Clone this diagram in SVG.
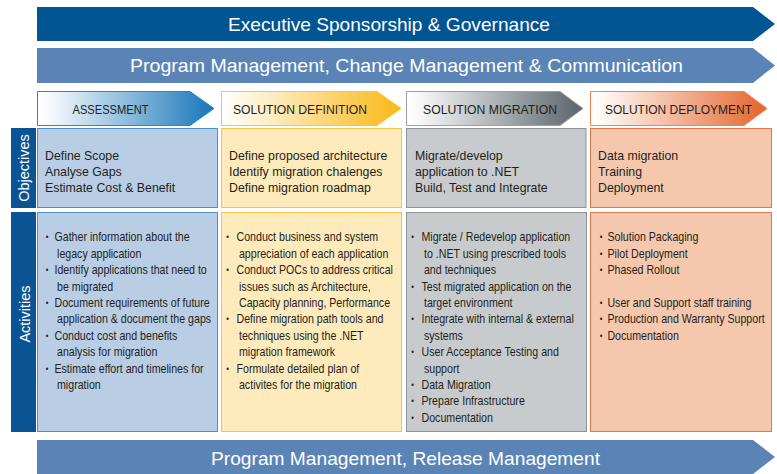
<svg xmlns="http://www.w3.org/2000/svg" width="777" height="474" viewBox="0 0 777 474">
<defs>
<linearGradient id="gA" x1="0" x2="1" y1="0" y2="0"><stop offset="0" stop-color="#ffffff"/><stop offset="0.08" stop-color="#f4f8fc"/><stop offset="1" stop-color="#1676b9"/></linearGradient>
<linearGradient id="gD" x1="0" x2="1" y1="0" y2="0"><stop offset="0" stop-color="#ffffff"/><stop offset="0.08" stop-color="#fffaf0"/><stop offset="1" stop-color="#fbb815"/></linearGradient>
<linearGradient id="gM" x1="0" x2="1" y1="0" y2="0"><stop offset="0" stop-color="#ffffff"/><stop offset="0.08" stop-color="#f6f7f7"/><stop offset="1" stop-color="#58636a"/></linearGradient>
<linearGradient id="gP" x1="0" x2="1" y1="0" y2="0"><stop offset="0" stop-color="#ffffff"/><stop offset="0.08" stop-color="#fff7f2"/><stop offset="1" stop-color="#e3642b"/></linearGradient>
</defs>
<style>
text{font-family:"Liberation Sans",Arial,sans-serif;fill:#231f20}
.ban{fill:#ffffff;font-size:18.5px}
.hd{font-size:13.5px}
.ob{font-size:13px}
.bl{font-size:12.5px}
.dot{font-size:9px}
.lbl{fill:#ffffff;font-size:14.5px}
.lab{fill:#0b5494}
.bA{fill:#b9cde5;stroke:#4f93cc;stroke-width:1}
.bD{fill:#feeabb;stroke:#f7c440;stroke-width:1}
.bM{fill:#c8cbcd;stroke:#8d9396;stroke-width:1}
.bP{fill:#f5c8ae;stroke:#e2774a;stroke-width:1}
</style>
<rect width="777" height="474" fill="#ffffff"/>

<g id="exec-banner">
<polygon points="37,7 753,7 775,24 753,41 37,41" fill="#005592"/>
<text class="ban" x="228" y="30.5" textLength="322" lengthAdjust="spacingAndGlyphs">Executive Sponsorship &amp; Governance</text>
</g>
<g id="program-banner">
<polygon points="37,48 753,48 775,65.5 753,83 37,83" fill="#5b84b6"/>
<text class="ban" x="130" y="72" textLength="553" lengthAdjust="spacingAndGlyphs">Program Management, Change Management &amp; Communication</text>
</g>
<g id="release-banner">
<polygon points="37,440 753,440 775,457 753,474 37,474" fill="#5b84b6"/>
<text class="ban" x="211" y="464.5" textLength="389" lengthAdjust="spacingAndGlyphs">Program Management, Release Management</text>
</g>

<g id="hdr-assessment">
<polygon points="37.5,91.5 190,91.5 214,108.5 190,125.5 37.5,125.5" fill="url(#gA)" stroke="#2a86c5"/>
<text class="hd" x="72.5" y="113.5" textLength="76" lengthAdjust="spacingAndGlyphs">ASSESSMENT</text>
</g>
<g id="hdr-definition">
<polygon points="221.5,91.5 377,91.5 401,108.5 377,125.5 221.5,125.5" fill="url(#gD)" stroke="#fbc538"/>
<text class="hd" x="233" y="113.5" textLength="134" lengthAdjust="spacingAndGlyphs">SOLUTION DEFINITION</text>
</g>
<g id="hdr-migration">
<polygon points="406.5,91.5 560,91.5 583,108.5 560,125.5 406.5,125.5" fill="url(#gM)" stroke="#9aa0a4"/>
<text class="hd" x="423" y="113.5" textLength="134" lengthAdjust="spacingAndGlyphs">SOLUTION MIGRATION</text>
</g>
<g id="hdr-deployment">
<polygon points="590.5,91.5 744,91.5 767,108.5 744,125.5 590.5,125.5" fill="url(#gP)" stroke="#ee8252"/>
<text class="hd" x="605" y="113.5" textLength="147" lengthAdjust="spacingAndGlyphs">SOLUTION DEPLOYMENT</text>
</g>

<g id="label-objectives">
<rect class="lab" x="11" y="128" width="25" height="80"/>
<text class="lbl" transform="translate(29 168) rotate(-90)" text-anchor="middle">Objectives</text>
</g>
<g id="label-activities">
<rect class="lab" x="11" y="212" width="25" height="220"/>
<text class="lbl" transform="translate(29.5 314) rotate(-90)" text-anchor="middle">Activities</text>
</g>

<g id="obj-assessment">
<rect class="bA" x="37.5" y="128.5" width="180" height="79"/>
<g transform="translate(45 0) scale(0.95 1)">
<text class="ob" x="0" y="160.5">Define Scope</text>
<text class="ob" x="0" y="176.3">Analyse Gaps</text>
<text class="ob" x="0" y="192">Estimate Cost &amp; Benefit</text>
</g>
</g>
<g id="obj-definition">
<rect class="bD" x="221.5" y="128.5" width="180" height="79"/>
<g transform="translate(229 0) scale(0.95 1)">
<text class="ob" x="0" y="160.5">Define proposed architecture</text>
<text class="ob" x="0" y="176.3">Identify migration chalenges</text>
<text class="ob" x="0" y="192">Define migration roadmap</text>
</g>
</g>
<g id="obj-migration">
<rect class="bM" x="406.5" y="128.5" width="179.5" height="79"/>
<g transform="translate(415 0) scale(0.95 1)">
<text class="ob" x="0" y="160.5">Migrate/develop</text>
<text class="ob" x="0" y="176.3">application to .NET</text>
<text class="ob" x="0" y="192">Build, Test and Integrate</text>
</g>
</g>
<g id="obj-deployment">
<rect class="bP" x="590.5" y="128.5" width="181" height="79"/>
<g transform="translate(598 0) scale(0.95 1)">
<text class="ob" x="0" y="160.5">Data migration</text>
<text class="ob" x="0" y="176.3">Training</text>
<text class="ob" x="0" y="192">Deployment</text>
</g>
</g>

<g id="act-assessment">
<rect class="bA" x="37.5" y="212.5" width="180" height="219"/>
<g transform="translate(47 0) scale(0.85 1)">
<text class="dot" x="0" y="240.5" text-anchor="middle">•</text>
<text class="bl" x="8.8" y="241.5">Gather information about the</text>
<text class="bl" x="11.8" y="257.9">legacy application</text>
<text class="dot" x="0" y="273.3" text-anchor="middle">•</text>
<text class="bl" x="8.8" y="274.3">Identify applications that need to</text>
<text class="bl" x="11.8" y="290.7">be migrated</text>
<text class="dot" x="0" y="306.1" text-anchor="middle">•</text>
<text class="bl" x="8.8" y="307.1">Document requirements of future</text>
<text class="bl" x="11.8" y="323.5">application &amp; document the gaps</text>
<text class="dot" x="0" y="338.9" text-anchor="middle">•</text>
<text class="bl" x="8.8" y="339.9">Conduct cost and benefits</text>
<text class="bl" x="11.8" y="356.3">analysis for migration</text>
<text class="dot" x="0" y="371.7" text-anchor="middle">•</text>
<text class="bl" x="8.8" y="372.7">Estimate effort and timelines for</text>
<text class="bl" x="11.8" y="389.1">migration</text>
</g>
</g>
<g id="act-definition">
<rect class="bD" x="221.5" y="212.5" width="180" height="219"/>
<g transform="translate(227.5 0) scale(0.85 1)">
<text class="dot" x="0" y="240.5" text-anchor="middle">•</text>
<text class="bl" x="10.6" y="241.5">Conduct business and system</text>
<text class="bl" x="13.5" y="257.9">appreciation of each application</text>
<text class="dot" x="0" y="273.3" text-anchor="middle">•</text>
<text class="bl" x="10.6" y="274.3">Conduct POCs to address critical</text>
<text class="bl" x="13.5" y="290.7">issues such as Architecture,</text>
<text class="bl" x="13.5" y="307.1">Capacity planning, Performance</text>
<text class="dot" x="0" y="322.5" text-anchor="middle">•</text>
<text class="bl" x="10.6" y="323.5">Define migration path tools and</text>
<text class="bl" x="13.5" y="339.9">techniques using the .NET</text>
<text class="bl" x="13.5" y="356.3">migration framework</text>
<text class="dot" x="0" y="371.7" text-anchor="middle">•</text>
<text class="bl" x="10.6" y="372.7">Formulate detailed plan of</text>
<text class="bl" x="13.5" y="389.1">activites for the migration</text>
</g>
</g>
<g id="act-migration">
<rect class="bM" x="406.5" y="212.5" width="180" height="219"/>
<g transform="translate(412.5 0) scale(0.85 1)">
<text class="dot" x="0" y="240.5" text-anchor="middle">•</text>
<text class="bl" x="10.6" y="241.5">Migrate / Redevelop application</text>
<text class="bl" x="13.5" y="257.9">to .NET using prescribed tools</text>
<text class="bl" x="13.5" y="274.3">and techniques</text>
<text class="dot" x="0" y="289.7" text-anchor="middle">•</text>
<text class="bl" x="10.6" y="290.7">Test migrated application on the</text>
<text class="bl" x="13.5" y="307.1">target environment</text>
<text class="dot" x="0" y="322.5" text-anchor="middle">•</text>
<text class="bl" x="10.6" y="323.5">Integrate with internal &amp; external</text>
<text class="bl" x="13.5" y="339.9">systems</text>
<text class="dot" x="0" y="355.3" text-anchor="middle">•</text>
<text class="bl" x="10.6" y="356.3">User Acceptance Testing and</text>
<text class="bl" x="13.5" y="372.7">support</text>
<text class="dot" x="0" y="388.1" text-anchor="middle">•</text>
<text class="bl" x="10.6" y="389.1">Data Migration</text>
<text class="dot" x="0" y="404.5" text-anchor="middle">•</text>
<text class="bl" x="10.6" y="405.5">Prepare Infrastructure</text>
<text class="dot" x="0" y="420.9" text-anchor="middle">•</text>
<text class="bl" x="10.6" y="421.9">Documentation</text>
</g>
</g>
<g id="act-deployment">
<rect class="bP" x="590.5" y="212.5" width="181" height="219"/>
<g transform="translate(601 0) scale(0.85 1)">
<text class="dot" x="0" y="240.5" text-anchor="middle">•</text>
<text class="bl" x="7.6" y="241.5">Solution Packaging</text>
<text class="dot" x="0" y="256.9" text-anchor="middle">•</text>
<text class="bl" x="7.6" y="257.9">Pilot Deployment</text>
<text class="dot" x="0" y="273.3" text-anchor="middle">•</text>
<text class="bl" x="7.6" y="274.3">Phased Rollout</text>
<text class="dot" x="0" y="306.1" text-anchor="middle">•</text>
<text class="bl" x="7.6" y="307.1">User and Support staff training</text>
<text class="dot" x="0" y="322.5" text-anchor="middle">•</text>
<text class="bl" x="7.6" y="323.5">Production and Warranty Support</text>
<text class="dot" x="0" y="338.9" text-anchor="middle">•</text>
<text class="bl" x="7.6" y="339.9">Documentation</text>
</g>
</g>

<g id="connectors"></g>
</svg>
